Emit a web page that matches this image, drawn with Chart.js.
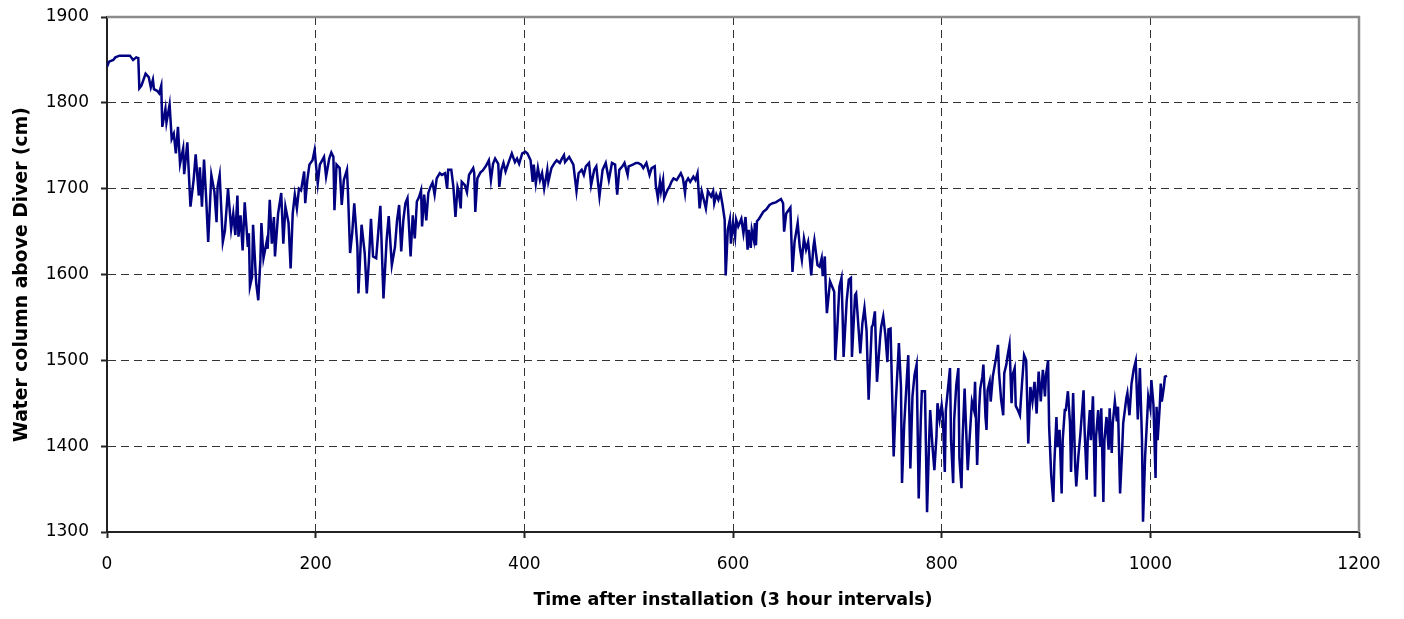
<!DOCTYPE html>
<html>
<head>
<meta charset="utf-8">
<title>Water column above Diver</title>
<script src="https://cdn.jsdelivr.net/npm/chart.js@4.4.1/dist/chart.umd.min.js"></script>
<style>
    html, body { margin: 0; padding: 0; background: #ffffff; }
    #wrap { width: 1404px; height: 619px; position: relative; }
</style>
</head>
<body>
<div id="wrap"><canvas id="diverChart"></canvas></div>
<script>
// time steps (3 hour intervals) and water column above the diver (cm)
const steps = [
    0, 2, 6, 8, 12, 17, 22, 25, 28, 30, 31, 33, 37, 40, 42, 44, 45, 48, 50, 52,
    53, 56, 57, 60, 62, 64, 66, 68, 70, 73, 74, 77, 80, 83, 85, 88, 89, 91, 93, 95,
    97, 100, 103, 105, 106, 108, 111, 113, 116, 119, 121, 123, 125, 126, 128, 130, 132, 135, 136, 137,
    139, 140, 143, 145, 147, 148, 150, 153, 154, 156, 158, 160, 161, 164, 167, 169, 171, 174, 176, 178,
    180, 182, 184, 186, 189, 190, 192, 194, 197, 199, 202, 204, 208, 210, 213, 215, 217, 218, 220, 223,
    225, 227, 230, 231, 233, 235, 237, 240, 241, 244, 247, 249, 251, 253, 255, 258, 262, 265, 268, 270,
    273, 276, 278, 280, 282, 284, 286, 288, 291, 293, 295, 297, 299, 301, 302, 304, 306, 308, 310, 312,
    314, 316, 319, 321, 324, 326, 327, 330, 332, 334, 336, 337, 339, 340, 343, 345, 347, 349, 351, 352,
    353, 355, 358, 360, 363, 366, 368, 370, 372, 375, 376, 378, 380, 382, 385, 388, 391, 393, 395, 398,
    401, 403, 406, 408, 409, 411, 413, 415, 417, 419, 422, 423, 426, 429, 431, 434, 436, 438, 439, 443,
    447, 450, 452, 455, 457, 459, 462, 464, 467, 469, 472, 475, 478, 481, 484, 487, 489, 491, 494, 496,
    499, 500, 504, 507, 509, 512, 514, 517, 520, 522, 525, 526, 528, 530, 531, 533, 534, 537, 539, 541,
    543, 546, 548, 550, 552, 554, 555, 557, 559, 562, 564, 566, 567, 568, 570, 572, 574, 576, 579, 581,
    582, 584, 586, 588, 590, 592, 593, 595, 597, 598, 600, 602, 603, 605, 608, 610, 612, 614, 615, 617,
    618, 620, 621, 622, 623, 625, 629, 632, 635, 638, 641, 646, 648, 649, 651, 655, 657, 659, 662, 664,
    666, 668, 670, 672, 673, 675, 677, 678, 681, 683, 685, 686, 688, 689, 690, 693, 695, 697, 698, 700,
    702, 704, 705, 706, 709, 711, 713, 714, 717, 718, 722, 724, 726, 728, 730, 733, 734, 736, 738, 741,
    742, 744, 746, 748, 749, 751, 754, 756, 759, 761, 762, 764, 767, 768, 770, 772, 774, 776, 778, 780,
    781, 784, 786, 788, 789, 791, 793, 795, 796, 798, 800, 801, 803, 804, 808, 809, 811, 812, 814, 816,
    817, 819, 820, 822, 823, 825, 827, 829, 831, 832, 834, 836, 837, 839, 840, 842, 843, 844, 846, 847,
    849, 852, 854, 855, 857, 859, 860, 862, 863, 865, 867, 868, 870, 871, 873, 875, 877, 879, 881, 883,
    884, 885, 887, 889, 891, 892, 893, 895, 897, 899, 900, 902, 903, 905, 907, 908, 910, 911, 913, 915,
    916, 918, 919, 921, 923, 924, 926, 928, 929, 931, 933, 936, 937, 939, 940, 942, 943, 945, 947, 948,
    950, 952, 953, 955, 956, 958, 960, 961, 963, 964, 966, 968, 969, 971, 973, 974, 976, 977, 978, 980,
    982, 984, 986, 988, 990, 992, 993, 995, 997, 998, 1000, 1001, 1003, 1005, 1006, 1007, 1009, 1010, 1011, 1013,
    1014, 1016
];

const waterLevel = [
    1842, 1848, 1850, 1853, 1855, 1855, 1855, 1850, 1853, 1852, 1817, 1820, 1834, 1830, 1818, 1827, 1816, 1814, 1811, 1820,
    1772, 1793, 1777, 1798, 1758, 1764, 1741, 1772, 1729, 1747, 1717, 1754, 1679, 1710, 1740, 1692, 1725, 1679, 1734, 1690,
    1638, 1716, 1696, 1661, 1702, 1716, 1638, 1651, 1700, 1653, 1671, 1646, 1692, 1644, 1669, 1628, 1684, 1632, 1648, 1586,
    1597, 1658, 1590, 1570, 1617, 1660, 1619, 1638, 1630, 1687, 1636, 1667, 1621, 1671, 1695, 1636, 1679, 1660, 1607, 1671,
    1693, 1677, 1700, 1698, 1720, 1683, 1710, 1728, 1733, 1745, 1706, 1728, 1737, 1714, 1735, 1742, 1737, 1675, 1728, 1724,
    1681, 1710, 1722, 1695, 1625, 1648, 1683, 1632, 1578, 1658, 1625, 1578, 1615, 1665, 1621, 1619, 1680, 1572, 1640, 1668,
    1611, 1632, 1663, 1681, 1627, 1663, 1683, 1689, 1621, 1669, 1642, 1685, 1690, 1698, 1656, 1693, 1663, 1695, 1702, 1707,
    1693, 1712, 1718, 1716, 1718, 1700, 1722, 1722, 1702, 1667, 1702, 1698, 1677, 1708, 1704, 1696, 1716, 1720, 1724, 1718,
    1673, 1712, 1719, 1721, 1726, 1733, 1710, 1729, 1735, 1729, 1702, 1722, 1730, 1720, 1731, 1741, 1731, 1735, 1729, 1741,
    1743, 1741, 1733, 1708, 1728, 1706, 1724, 1710, 1718, 1700, 1722, 1708, 1724, 1730, 1733, 1730, 1735, 1739, 1731, 1737,
    1728, 1697, 1718, 1722, 1716, 1726, 1730, 1704, 1722, 1726, 1691, 1722, 1730, 1710, 1730, 1728, 1693, 1722, 1726, 1730,
    1716, 1726, 1728, 1730, 1730, 1728, 1724, 1730, 1716, 1724, 1726, 1704, 1689, 1708, 1697, 1710, 1689, 1698, 1702, 1708,
    1712, 1710, 1714, 1718, 1712, 1695, 1708, 1712, 1708, 1714, 1710, 1718, 1698, 1677, 1697, 1687, 1677, 1697, 1691, 1697,
    1683, 1693, 1687, 1695, 1681, 1664, 1599, 1652, 1664, 1636, 1660, 1644, 1664, 1656, 1665, 1648, 1667, 1629, 1652, 1631,
    1652, 1640, 1660, 1634, 1662, 1665, 1673, 1676, 1681, 1683, 1684, 1688, 1683, 1650, 1671, 1678, 1603, 1638, 1660, 1632,
    1617, 1642, 1629, 1638, 1627, 1599, 1632, 1640, 1611, 1609, 1619, 1598, 1621, 1582, 1555, 1592, 1586, 1580, 1500, 1539,
    1586, 1596, 1555, 1504, 1570, 1594, 1596, 1504, 1576, 1578, 1508, 1543, 1561, 1535, 1454, 1539, 1541, 1557, 1475, 1526,
    1539, 1551, 1530, 1498, 1536, 1537, 1388, 1450, 1520, 1469, 1357, 1423, 1487, 1506, 1374, 1458, 1483, 1495, 1339, 1431,
    1464, 1464, 1323, 1407, 1442, 1403, 1372, 1411, 1450, 1431, 1448, 1438, 1370, 1442, 1491, 1407, 1357, 1431, 1471, 1491,
    1386, 1351, 1407, 1467, 1434, 1372, 1413, 1452, 1442, 1475, 1378, 1446, 1467, 1481, 1495, 1434, 1419, 1465, 1475, 1452,
    1481, 1502, 1518, 1485, 1454, 1436, 1485, 1495, 1504, 1518, 1450, 1483, 1491, 1447, 1442, 1436, 1473, 1506, 1500, 1403,
    1434, 1469, 1452, 1475, 1438, 1465, 1487, 1452, 1489, 1458, 1483, 1500, 1423, 1366, 1335, 1380, 1434, 1399, 1419, 1345,
    1407, 1442, 1442, 1464, 1427, 1370, 1462, 1376, 1353, 1388, 1415, 1465, 1419, 1361, 1407, 1442, 1407, 1458, 1341, 1411,
    1442, 1399, 1444, 1335, 1407, 1434, 1396, 1444, 1392, 1427, 1452, 1429, 1446, 1345, 1396, 1427, 1446, 1456, 1462, 1436,
    1473, 1489, 1499, 1431, 1491, 1407, 1312, 1388, 1434, 1458, 1444, 1477, 1448, 1363, 1446, 1407, 1446, 1473, 1452, 1469,
    1481, 1482
];

const xTicks = [0, 200, 400, 600, 800, 1000, 1200];
const yTicks = [1300, 1400, 1500, 1600, 1700, 1800, 1900];

const xTitle = 'Time after installation (3 hour intervals)';
const yTitle = 'Water column above Diver (cm)';

const points = steps.map((s, i) => ({ x: s, y: waterLevel[i] }));

// grey frame on the top and right side of the plot area
Chart.register({
    id: 'plotFrame',
    afterDraw: (chart) => {
        const { ctx, chartArea: { left, right, top, bottom } } = chart;
        ctx.save();
        ctx.beginPath();
        ctx.moveTo(left, top);
        ctx.lineTo(right, top);
        ctx.lineTo(right, bottom);
        ctx.lineWidth = 2.5;
        ctx.strokeStyle = '#8c8c8c';
        ctx.stroke();
        ctx.restore();
    }
});

const tickFont = { family: 'DejaVu Sans', size: 17 };
const plainLabel = (value) => String(value);

const ctx = document.getElementById('diverChart').getContext('2d');

const diverChart = new Chart(ctx, {
    type: 'line',
    data: {
        datasets: [{
            label: yTitle,
            data: points,
            borderColor: '#000080',
            borderWidth: 2.5,
            pointRadius: 0,
            fill: false,
            tension: 0
        }]
    },
    options: {
        responsive: true,
        maintainAspectRatio: false,
        animation: false,
        devicePixelRatio: 1,
        layout: {
            padding: { left: 0, top: 17, right: 45, bottom: 0 }
        },
        plugins: {
            legend: { display: false },
            tooltip: { enabled: false }
        },
        scales: {
            x: {
                type: 'linear',
                min: 0,
                max: 1200,
                afterBuildTicks: (scale) => { scale.ticks = xTicks.map(v => ({ value: v })); },
                afterFit: (scale) => {
                    scale.height = 87;
                    scale.paddingLeft = 0;
                    scale.paddingRight = 0;
                },
                ticks: {
                    font: tickFont,
                    color: '#000',
                    padding: 16,
                    maxRotation: 0,
                    callback: plainLabel
                },
                grid: {
                    color: '#333333',
                    lineWidth: 1,
                    tickLength: 6,
                    tickColor: '#222',
                    tickWidth: 2
                },
                border: { display: true, color: '#222', width: 2, dash: [8, 5] },
                title: {
                    display: true,
                    text: xTitle,
                    font: { family: 'DejaVu Sans', size: 17.5, weight: 'bold' },
                    color: '#000',
                    padding: { top: 0, bottom: 8 }
                }
            },
            y: {
                type: 'linear',
                min: 1300,
                max: 1900,
                afterBuildTicks: (scale) => { scale.ticks = yTicks.map(v => ({ value: v })); },
                afterFit: (scale) => {
                    scale.width = 107;
                    scale.paddingTop = 0;
                    scale.paddingBottom = 0;
                },
                ticks: {
                    font: tickFont,
                    color: '#000',
                    padding: 12,
                    callback: plainLabel
                },
                grid: {
                    color: '#333333',
                    lineWidth: 1,
                    tickLength: 6,
                    tickColor: '#222',
                    tickWidth: 2
                },
                border: { display: true, color: '#222', width: 2, dash: [8, 5] },
                title: {
                    display: true,
                    text: yTitle,
                    font: { family: 'DejaVu Sans', size: 18.8, weight: 'bold' },
                    color: '#000',
                    padding: { top: 11, bottom: 0 }
                }
            }
        }
    }
});
</script>
</body>
</html>
